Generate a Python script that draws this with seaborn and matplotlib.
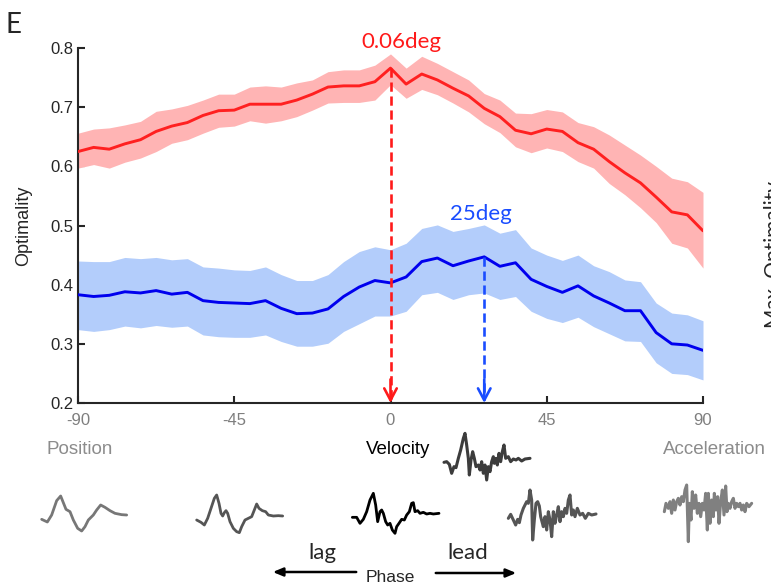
import numpy as np
import pandas as pd
import matplotlib
matplotlib.use("Agg")
import matplotlib.pyplot as plt
import seaborn as sns

# phase offsets (deg)
phase = [-90, -85.5, -81, -76.5, -72, -67.5, -63, -58.5, -54, -49.5, -45,
         -40.5, -36, -31.5, -27, -22.5, -18, -13.5, -9, -4.5, 0,
         4.5, 9, 13.5, 18, 22.5, 27, 31.5, 36, 40.5, 45,
         49.5, 54, 58.5, 63, 67.5, 72, 76.5, 81, 85.5, 90]

# red series (mean and band)
red_mean = [0.625, 0.632, 0.629, 0.638, 0.645, 0.659, 0.668, 0.674, 0.686, 0.694, 0.695,
            0.705, 0.705, 0.705, 0.712, 0.722, 0.734, 0.736, 0.736, 0.743, 0.766,
            0.739, 0.756, 0.746, 0.732, 0.719, 0.698, 0.684, 0.661, 0.655, 0.663,
            0.659, 0.640, 0.629, 0.608, 0.589, 0.572, 0.548, 0.523, 0.518, 0.491]
red_hi = [0.656, 0.663, 0.665, 0.670, 0.676, 0.693, 0.697, 0.703, 0.712, 0.722, 0.722,
          0.734, 0.736, 0.734, 0.741, 0.746, 0.760, 0.763, 0.763, 0.771, 0.790,
          0.766, 0.786, 0.774, 0.760, 0.746, 0.723, 0.712, 0.690, 0.689, 0.696,
          0.692, 0.674, 0.667, 0.653, 0.636, 0.619, 0.600, 0.580, 0.574, 0.556]
red_lo = [0.597, 0.603, 0.597, 0.607, 0.614, 0.625, 0.639, 0.645, 0.656, 0.666, 0.668,
          0.677, 0.673, 0.677, 0.684, 0.695, 0.707, 0.708, 0.708, 0.712, 0.738,
          0.715, 0.730, 0.721, 0.707, 0.692, 0.672, 0.657, 0.633, 0.623, 0.631,
          0.625, 0.608, 0.597, 0.571, 0.552, 0.530, 0.505, 0.470, 0.462, 0.428]

# blue series
blue_mean = [0.383, 0.380, 0.382, 0.388, 0.386, 0.390, 0.384, 0.387, 0.373, 0.370, 0.369,
             0.368, 0.373, 0.360, 0.351, 0.352, 0.359, 0.380, 0.396, 0.407, 0.403,
             0.413, 0.439, 0.445, 0.432, 0.440, 0.447, 0.431, 0.437, 0.409, 0.397,
             0.387, 0.398, 0.381, 0.369, 0.356, 0.356, 0.319, 0.300, 0.298, 0.289]
blue_hi = [0.440, 0.439, 0.439, 0.446, 0.444, 0.446, 0.442, 0.444, 0.430, 0.428, 0.425,
           0.424, 0.430, 0.417, 0.407, 0.407, 0.417, 0.439, 0.456, 0.464, 0.459,
           0.470, 0.495, 0.501, 0.490, 0.495, 0.501, 0.487, 0.493, 0.462, 0.450,
           0.441, 0.450, 0.432, 0.422, 0.408, 0.405, 0.369, 0.352, 0.349, 0.339]
blue_lo = [0.324, 0.321, 0.324, 0.330, 0.327, 0.331, 0.328, 0.330, 0.315, 0.312, 0.311,
           0.311, 0.315, 0.304, 0.296, 0.296, 0.301, 0.321, 0.334, 0.347, 0.347,
           0.355, 0.383, 0.387, 0.375, 0.383, 0.386, 0.375, 0.380, 0.355, 0.343,
           0.336, 0.345, 0.329, 0.317, 0.305, 0.304, 0.268, 0.250, 0.248, 0.239]

x_ticks = [-90, -45, 0, 45, 90]
y_ticks = [0.2, 0.3, 0.4, 0.5, 0.6, 0.7, 0.8]
red_peak_label = "0.06deg"
blue_peak_label = "25deg"

# waveform icons (shape traces, local pixel units x3, y down)
wave_pos = [(35, 118), (52, 126), (65, 105), (80, 62), (92, 48), (100, 68), (108, 88), (120, 95),
            (130, 120), (143, 145), (155, 153), (165, 140), (175, 120), (190, 105), (200, 90),
            (212, 75), (225, 82), (240, 92), (255, 100), (275, 104), (290, 105)]
wave_lag = [(35, 120), (48, 127), (58, 135), (68, 115), (78, 85), (88, 55), (95, 45), (102, 70),
            (108, 100), (113, 108), (118, 98), (123, 92), (128, 100), (135, 125), (145, 145),
            (155, 155), (163, 158), (170, 140), (180, 120), (190, 115), (200, 110), (206, 95),
            (215, 72), (222, 85), (232, 92), (242, 95), (250, 105), (265, 108), (280, 107), (293, 108)]
wave_vel = [(22, 112), (35, 112), (45, 130), (55, 118), (65, 95), (75, 60), (85, 40), (92, 75),
            (98, 125), (105, 95), (110, 90), (115, 100), (122, 125), (128, 135), (135, 130),
            (142, 150), (150, 160), (155, 140), (162, 130), (170, 118), (178, 120), (185, 105),
            (193, 95), (200, 70), (205, 68), (210, 95), (218, 92), (225, 100), (235, 97),
            (245, 102), (255, 100), (265, 102), (282, 100)]
wave_lead = [(25, 115), (32, 103), (40, 120), (47, 135), (53, 118), (58, 128), (63, 105), (70, 85),
             (75, 75), (80, 65), (85, 70), (90, 30), (95, 60), (98, 180), (103, 120), (108, 70),
             (113, 65), (118, 78), (122, 110), (126, 125), (130, 140), (135, 110), (140, 150),
             (145, 95), (150, 120), (155, 170), (160, 95), (165, 130), (170, 105), (175, 80),
             (180, 125), (185, 95), (190, 110), (195, 85), (200, 100), (205, 60), (210, 45),
             (215, 105), (220, 90), (225, 110), (232, 85), (240, 105), (248, 100), (256, 115),
             (265, 100), (275, 105), (288, 102)]
wave_acc = [(28, 125), (33, 100), (40, 115), (45, 95), (50, 130), (55, 90), (60, 120), (65, 95),
            (70, 85), (75, 105), (80, 80), (85, 95), (90, 60), (95, 45), (100, 215), (103, 100),
            (108, 150), (112, 65), (117, 115), (122, 75), (127, 130), (132, 100), (137, 140),
            (142, 100), (147, 120), (152, 70), (157, 180), (160, 70), (165, 160), (170, 90),
            (175, 140), (178, 70), (183, 120), (188, 80), (192, 160), (197, 95), (202, 60),
            (207, 135), (212, 48), (216, 125), (220, 100), (225, 115), (230, 95), (235, 85),
            (240, 115), (245, 100), (250, 110), (255, 100), (260, 120), (265, 105), (270, 125),
            (275, 100), (282, 110), (290, 100)]
wave_mid = [(12, 112), (20, 110), (28, 118), (35, 145), (42, 125), (48, 128), (55, 100), (62, 75),
            (70, 40), (75, 25), (80, 60), (85, 100), (88, 150), (93, 105), (98, 80), (103, 100),
            (108, 125), (115, 120), (120, 135), (125, 110), (130, 145), (135, 120), (140, 165),
            (145, 125), (150, 140), (155, 110), (160, 95), (163, 115), (168, 100), (172, 120),
            (177, 85), (182, 110), (187, 80), (192, 60), (197, 100), (205, 95), (212, 110),
            (220, 102), (228, 105), (235, 100), (245, 108), (255, 102), (270, 100)]

df = pd.DataFrame({"phase": phase, "red": red_mean, "blue": blue_mean})

W, H = 771, 586
fig = plt.figure(figsize=(W / 100, H / 100), dpi=100)
sns.set_style("ticks")
plt.rcParams["font.family"] = ["Liberation Sans", "DejaVu Sans"]
calibri = ["Lato", "DejaVu Sans"]

ax = fig.add_axes([78 / W, 1 - 403 / H, (703 - 78) / W, (403 - 48) / H])

red_line, red_band = "#ff2020", "#ffb4b4"
blue_line, blue_band = "#0000ee", "#b3cdfb"

ax.fill_between(phase, red_lo, red_hi, color=red_band, lw=0, zorder=1)
ax.fill_between(phase, blue_lo, blue_hi, color=blue_band, lw=0, zorder=1)
sns.lineplot(data=df, x="phase", y="red", color=red_line, lw=2.1, ax=ax, zorder=3)
sns.lineplot(data=df, x="phase", y="blue", color=blue_line, lw=2.1, ax=ax, zorder=3)

# peak arrows
ri = int(np.argmax(red_mean))
bi = int(np.argmax(blue_mean))
for xi, yi, col in [(phase[ri], red_mean[ri], "#ff1a1a"), (phase[bi], blue_mean[bi], "#1a4dff")]:
    ax.plot([xi, xi], [yi, 0.205], ls=(0, (3.5, 1.8)), color=col, lw=1.9, zorder=4)
    ax.annotate("", xy=(xi, 0.2), xytext=(xi, 0.24),
                arrowprops=dict(arrowstyle="->,head_length=0.85,head_width=0.45",
                                color=col, lw=1.9, shrinkA=0, shrinkB=0), zorder=5)

ax.text(3, 0.81, red_peak_label, color="#ff1a1a", fontsize=16, family=calibri,
        ha="center", va="center")
ax.text(26, 0.52, blue_peak_label, color="#1a4dff", fontsize=16, family=calibri,
        ha="center", va="center")

ax.set_xlim(-90, 90)
ax.set_ylim(0.2, 0.8)
ax.set_xticks(x_ticks)
ax.set_xticklabels([str(t) for t in x_ticks], color="#7f7f7f")
ax.set_yticks(y_ticks)
ax.set_yticklabels([f"{t:.1f}" for t in y_ticks])
ax.tick_params(direction="in", length=5, width=1.5, labelsize=12)
ax.tick_params(axis="x", pad=7)
ax.set_xlabel("")
ax.set_ylabel("Optimality", fontsize=13, labelpad=13)
sns.despine(ax=ax)
for s in ["left", "bottom"]:
    ax.spines[s].set_linewidth(1.5)

# overlay in pixel units for labels and icons
ov = fig.add_axes([0, 0, 1, 1], zorder=-1)
ov.set_xlim(0, W)
ov.set_ylim(H, 0)
ov.axis("off")

ov.text(13, 25, "E", fontsize=20, family=calibri, ha="center", va="center")
ov.text(80, 450, "Position", fontsize=13.5, color="#8c8c8c", ha="center", va="center")
ov.text(398, 450, "Velocity", fontsize=13.5, color="black", ha="center", va="center")
ov.text(714, 450, "Acceleration", fontsize=13.5, color="#8c8c8c", ha="center", va="center")
ov.text(322, 553, "lag", fontsize=16, family=calibri, ha="center", va="center")
ov.text(468, 553, "lead", fontsize=16, family=calibri, ha="center", va="center")
ov.text(390, 577, "Phase", fontsize=12.5, ha="center", va="center")
ov.text(764, 255, "Max. Optimality", fontsize=15, family=calibri, rotation=90,
        ha="left", va="center")
ov.annotate("", xy=(270, 572), xytext=(359, 572),
            arrowprops=dict(arrowstyle="-|>,head_length=0.6,head_width=0.25", color="black", lw=1.8))
ov.annotate("", xy=(519, 573), xytext=(433, 573),
            arrowprops=dict(arrowstyle="-|>,head_length=0.6,head_width=0.25", color="black", lw=1.8))

icons = [(wave_pos, (30, 480), "#777777", 2.0),
         (wave_lag, (185, 480), "#555555", 2.0),
         (wave_vel, (345, 480), "#000000", 2.0),
         (wave_lead, (500, 480), "#555555", 2.2),
         (wave_acc, (655, 470), "#808080", 2.2),
         (wave_mid, (440, 425), "#3c3c3c", 2.2)]
for pts, (ox, oy), col, lw in icons:
    arr = np.array(pts, dtype=float)
    ov.plot(ox + arr[:, 0] / 3, oy + arr[:, 1] / 3, color=col, lw=lw,
            solid_joinstyle="round", solid_capstyle="round")

fig.savefig("out.png", dpi=100)
